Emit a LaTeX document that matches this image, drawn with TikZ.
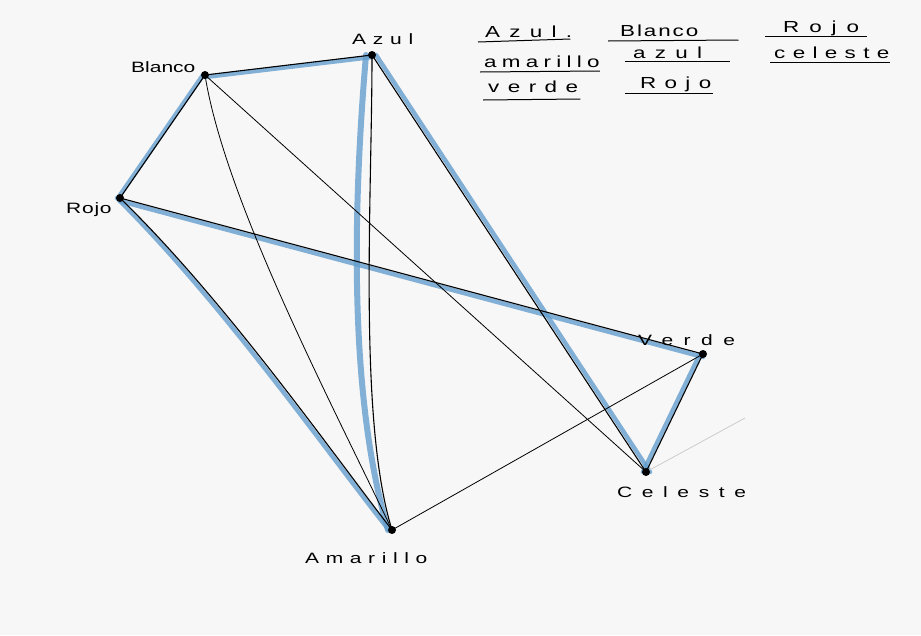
\documentclass[tikz,border=0pt]{standalone}
\usepackage{fontspec}
\setmainfont{Liberation Sans}
\newfontfamily\handfont{Liberation Sans}[FakeStretch=1.4]
\definecolor{pencil}{RGB}{100,158,205}
\pgfdeclarelayer{paper}
\pgfdeclarelayer{edges}
\pgfsetlayers{paper,edges,main}
\begin{document}
\begin{tikzpicture}[x=1pt,y=-1pt,
  vtx/.style={circle,fill=black,inner sep=0pt,minimum size=8pt},
  lbl/.style={font=\handfont\fontsize{15}{17}\selectfont,inner sep=0pt,anchor=base west},
  word/.style={font=\handfont\fontsize{16}{18}\selectfont,inner sep=0pt,anchor=base west},
  hl/.style={draw=pencil,line width=4.5pt,opacity=0.8,line cap=round},
  ed/.style={draw=black,line width=1.1pt},
  thin/.style={draw=black,line width=0.8pt},
  ul/.style={draw=black,line width=1pt}]
\begin{pgfonlayer}{paper}
\fill[gray!6] (0,0) rectangle (921,635);
\end{pgfonlayer}
\useasboundingbox (0,0) rectangle (921,635);
% vertices
\node[vtx] (B) at (205,75) {};
\node[vtx] (A) at (372,55) {};
\node[vtx] (R) at (120,198) {};
\node[vtx] (V) at (703,354) {};
\node[vtx] (C) at (646,472) {};
\node[vtx] (M) at (392,530) {};
\coordinate (F) at (745,418);
\begin{pgfonlayer}{edges}
% blue highlights
\draw[hl] ([xshift=-2pt]B.center) -- ([xshift=-2pt]R.center);
\draw[hl] ([yshift=-2pt]B.center) -- ([yshift=-2pt]A.center);
\draw[hl,line width=6pt] ([xshift=-6pt]A.center) .. controls (352,220) and (350,400) .. ([xshift=-4pt]M.center);
\draw[hl] ([xshift=4pt]A.center) -- ([xshift=4pt]C.center);
\draw[hl] ([yshift=-3pt]R.center) -- ([yshift=-3pt]V.center);
\draw[hl] ([xshift=-3pt]R.center) .. controls (222,302) and (327,452) .. ([xshift=-3pt]M.center);
\draw[hl] ([xshift=-3pt]V.center) -- ([xshift=-3pt]C.center);
% edges
\draw[ed] (B.center) -- (R.center);
\draw[ed] (B.center) -- (A.center);
\draw[ed] (A.center) .. controls (372,200) and (358,420) .. (M.center);
\draw[ed] (A.center) -- (C.center);
\draw[ed] (R.center) -- (V.center);
\draw[ed] (R.center) .. controls (225,300) and (330,450) .. (M.center);
\draw[ed] (V.center) -- (C.center);
\draw[thin] (B.center) .. controls (225,200) and (330,400) .. (M.center);
\draw[thin] (B.center) -- (C.center);
\draw[thin] (V.center) -- (M.center);
\draw[gray!40,line width=0.8pt] (C.center) -- (F);
\end{pgfonlayer}
% labels
\node[lbl] (lB) at (131,72) {Blanco};
\node[lbl] (lA) at (352,44) {\addfontfeature{LetterSpace=45}Azul};
\node[lbl] (lR) at (66,213) {\addfontfeature{LetterSpace=5}Rojo};
\node[lbl] (lV) at (638,345) {\addfontfeature{LetterSpace=70}Verde};
\node[lbl] (lC) at (617,497) {\addfontfeature{LetterSpace=64}Celeste};
\node[lbl] (lM) at (305,563) {\addfontfeature{LetterSpace=44}Amarillo};
% legend
\node[word] (w1) at (485,37) {\addfontfeature{LetterSpace=58}Azul.};
\node[word] (w2) at (620,36) {\addfontfeature{LetterSpace=12}Blanco};
\node[word] (w3) at (783,32) {\addfontfeature{LetterSpace=62}Rojo};
\node[word] (w4) at (484,67) {\addfontfeature{LetterSpace=33}amarillo};
\node[word] (w5) at (633,58) {\addfontfeature{LetterSpace=58}azul};
\node[word] (w6) at (774,58) {\addfontfeature{LetterSpace=46}celeste};
\node[word] (w7) at (488,92) {\addfontfeature{LetterSpace=53}verde};
\node[word] (w8) at (640,88) {\addfontfeature{LetterSpace=52}Rojo};
\draw[ul] ([xshift=-7pt,yshift=-5pt]w1.base west) -- ([xshift=-2pt,yshift=-2pt]w1.base east);
\draw[ul] ([xshift=-12pt,yshift=-5pt]w2.base west) -- ([xshift=40pt,yshift=-4pt]w2.base east);
\draw[ul] ([xshift=-18pt,yshift=-4pt]w3.base west) -- ([xshift=8pt,yshift=-4pt]w3.base east);
\draw[ul] ([xshift=-4pt,yshift=-5pt]w4.base west) -- ([xshift=0pt,yshift=-4pt]w4.base east);
\draw[ul] ([xshift=-8pt,yshift=-3pt]w5.base west) -- ([xshift=28pt,yshift=-3pt]w5.base east);
\draw[ul] ([xshift=-4pt,yshift=-4pt]w6.base west) -- ([xshift=0pt,yshift=-4pt]w6.base east);
\draw[ul] ([xshift=-5pt,yshift=-8pt]w7.base west) -- ([xshift=2pt,yshift=-7pt]w7.base east);
\draw[ul] ([xshift=-15pt,yshift=-5pt]w8.base west) -- ([xshift=2pt,yshift=-5pt]w8.base east);
\end{tikzpicture}
\end{document}
